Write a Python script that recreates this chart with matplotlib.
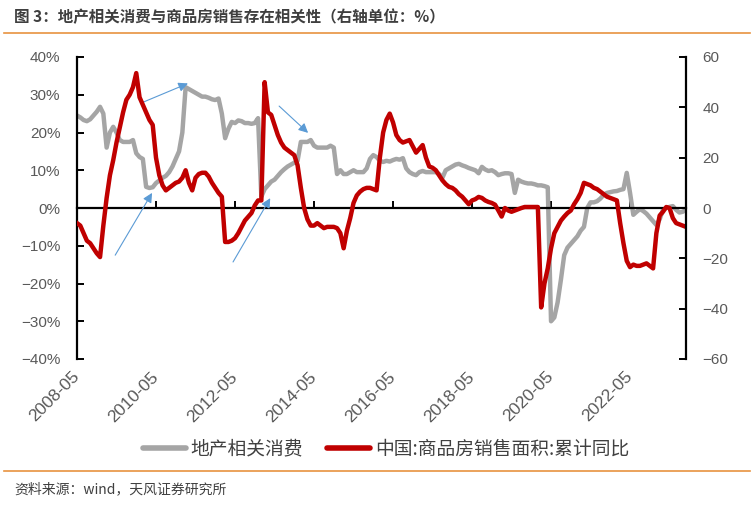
import matplotlib
matplotlib.use('Agg')
import matplotlib.pyplot as plt
from matplotlib.lines import Line2D

plt.rcParams['font.family'] = ['Noto Sans CJK SC', 'DejaVu Sans']
plt.rcParams['axes.unicode_minus'] = True

title = '图 3：地产相关消费与商品房销售存在相关性（右轴单位：%）'
source = '资料来源：wind，天风证券研究所'
name_consume = '地产相关消费'
name_sales = '中国:商品房销售面积:累计同比'

# monthly, 2008-05 .. 2023-10
consume = [24.5, 24, 23.3, 23, 23.5, 24.5, 25.5, 26.8, 25, 16,
           20, 21.5, 20, 18, 17.5, 17.5, 17.5, 18, 14.5, 13.5,
           13, 5.6, 5.3, 5.5, 6.6, 7.3, 8, 8.5, 9.5, 11,
           13, 15, 20, 32, 31.5, 31, 30.5, 30, 29.5, 29.5,
           29.2, 28.8, 28.6, 29, 25, 18.5, 21, 22.8, 22.5, 23.2,
           23, 22.5, 22.5, 22.3, 22.5, 23.8, 3, 5, 6, 7,
           7.5, 8.5, 9.5, 10.3, 11, 11.5, 12, 12.5, 17.5, 17.5,
           17.5, 18, 16.5, 16, 16, 16, 16, 16.5, 16, 9,
           10, 9, 9, 9.5, 10, 9.5, 9.5, 9.5, 10.5, 13,
           14, 13.5, 12.5, 12.2, 12.5, 12.3, 12.7, 13, 12.8, 13.2,
           10.5, 9.5, 9, 8.7, 9.5, 9.8, 9.5, 9.5, 9.5, 9.5,
           9, 8, 10, 10.5, 11, 11.5, 11.7, 11.3, 11, 10.6,
           10.3, 10, 9.2, 10.9, 10.2, 9.8, 10, 9.5, 8.7, 9,
           9.2, 9.2, 9, 4, 7.5, 7, 6.7, 6.5, 6.5, 6.3,
           6, 6, 5.8, 5.5, -30, -29, -25, -19, -12.5, -10.5,
           -9.5, -8.5, -7.5, -6, -5, 0, 1.5, 1.5, 1.8, 2.5,
           3.5, 4, 4.2, 4.4, 4.5, 4.8, 5, 9.3, 4, -1.8,
           -1, -0.3, -0.8, -1.5, -2.5, -3.5, -4.5, -3, -0.5, 0,
           0.3, 0.5, -0.5, -1.2, -1, -0.5]

sales = [-6, -7, -10, -13, -14, -16, -18, -19.5, -7, 4,
         13, 19, 26, 32, 38, 43, 45, 48, 53.6, 44,
         41, 38, 35, 33, 20, 13, 9, 7, 8, 9,
         10, 10.5, 12, 15, 10, 7, 12, 13.5, 14, 14,
         12.5, 10, 8, 6, 4.5, -13.5, -13.5, -13, -12, -10,
         -7.5, -5, -3.5, -2, 1, 3, 3, 50, 38, 37,
         33, 29, 26, 24, 23, 22, 21, 17, 8, 0,
         -4.5, -7, -7, -6, -7, -8, -7.5, -7.5, -7.5, -8,
         -10, -16, -9, -4, 2, 5, 6.5, 7.5, 8, 8,
         7.5, 7, 20, 30, 35, 37.5, 34, 29, 27, 26,
         26.5, 27, 24.5, 22, 23.5, 25, 20, 16.5, 16, 15,
         13, 11, 9.5, 8.4, 8, 7, 5.5, 4.5, 3, 1.5,
         3, 3.5, 4.4, 4, 3, 2.4, 2, 1.3, -1, -3.4,
         0, -1, -1.5, -1, -0.5, 0, 0.4, 0.4, 0.4, 0.4,
         0.4, -39.5, -30, -24, -16, -10, -7.5, -5, -3.4, -2,
         -1, 1.5, 3.5, 6, 10, 9.5, 9, 8, 7.5, 6.5,
         5.5, 4.5, 4, 3.5, 3, -6, -14, -21, -23.5, -22.5,
         -23, -23, -22.5, -22, -23, -24, -10, -3, -1.5, 0.4,
         0, -4, -6, -6.5, -7, -7.5]

x_ticks = [0, 24, 48, 72, 96, 120, 144, 168]
x_labels = ['2008-05', '2010-05', '2012-05', '2014-05',
            '2016-05', '2018-05', '2020-05', '2022-05']
left_ticks = [-40, -30, -20, -10, 0, 10, 20, 30, 40]
left_labels = ['\u221240%', '\u221230%', '\u221220%', '\u221210%', '0%',
               '10%', '20%', '30%', '40%']
right_ticks = [-60, -40, -20, 0, 20, 40, 60]
right_labels = ['\u221260', '\u221240', '\u221220', '0', '20', '40', '60']

# arrows: (start month idx, start %), (end month idx, end %) on left axis
arrows = [((11.6, -12.5), (22.8, 4.0)),
          ((20.0, 28.0), (33.7, 33.0)),
          ((47.4, -14.3), (58.7, 2.6)),
          ((61.4, 27.0), (70.2, 19.9))]

x = list(range(len(consume)))
gray = '#A5A5A5'
red = '#C00000'
tick_col = '#595959'

fig = plt.figure(figsize=(7.54, 5.07), dpi=100)
ax = fig.add_axes([77/754, 1-359/507, 609/754, 302/507])
ax.plot(x, consume, color=gray, lw=3.2, solid_joinstyle='round')
ax.set_xlim(0, len(x)-1)
ax.set_ylim(-40, 40)

ax2 = ax.twinx()
ax2.plot(x, sales, color=red, lw=3.2, solid_joinstyle='round')
ax2.set_ylim(-60, 60)

for s in ['top', 'right']:
    ax.spines[s].set_visible(False)
ax.spines['left'].set_linewidth(1.6)
ax.spines['bottom'].set_position(('data', 0))
ax.spines['bottom'].set_linewidth(1.6)
for s in ['top', 'left', 'bottom']:
    ax2.spines[s].set_visible(False)
ax2.spines['right'].set_linewidth(1.6)

ax.set_yticks(left_ticks, left_labels, family='Liberation Sans')
ax2.set_yticks(right_ticks, right_labels, family='Liberation Sans')
ax.tick_params(axis='y', direction='in', length=5, width=1.4,
               labelsize=11, labelcolor=tick_col, pad=12)
ax2.tick_params(axis='y', direction='in', length=5, width=1.4,
                labelsize=11, labelcolor=tick_col, pad=12)
ax.set_xticks(x_ticks)
ax.tick_params(axis='x', direction='in', length=5, width=1.4, labelbottom=False)

sec = ax.secondary_xaxis('bottom')
sec.set_xticks(x_ticks, x_labels, rotation=45, ha='right', va='center',
               rotation_mode='anchor', family='Liberation Sans')
sec.tick_params(length=0, pad=11, labelsize=12.5, labelcolor=tick_col)
sec.spines['bottom'].set_visible(False)

for (x0, y0), (x1, y1) in arrows:
    ax.annotate('', xy=(x1, y1), xytext=(x0, y0),
                arrowprops=dict(arrowstyle='-|>', color='#5B9BD5', lw=0.8,
                                mutation_scale=14, shrinkA=0, shrinkB=0))

handles = [Line2D([], [], color=gray, lw=4, solid_capstyle='round'),
           Line2D([], [], color=red, lw=4, solid_capstyle='round')]
fig.legend(handles, [name_consume, name_sales], loc='center',
           bbox_to_anchor=(386/754, 1-449/507), ncol=2, frameon=False,
           handlelength=2.3, handletextpad=0.25, columnspacing=1.3,
           prop=dict(size=13.5, weight='light'), labelcolor='#404040')

fig.text(14/754, 1-17/507, title, fontsize=11.2, weight='bold',
         color='#3F3F3F', va='center')
fig.add_artist(Line2D([4/754, 750/754], [1-33/507, 1-33/507],
                      color='#E8923F', lw=1.2))
fig.add_artist(Line2D([4/754, 750/754], [1-471/507, 1-471/507],
                      color='#E8923F', lw=1.2))
fig.text(14/754, 1-489/507, source, fontsize=10, color='#404040', va='center')

fig.savefig('out.png', dpi=100)
